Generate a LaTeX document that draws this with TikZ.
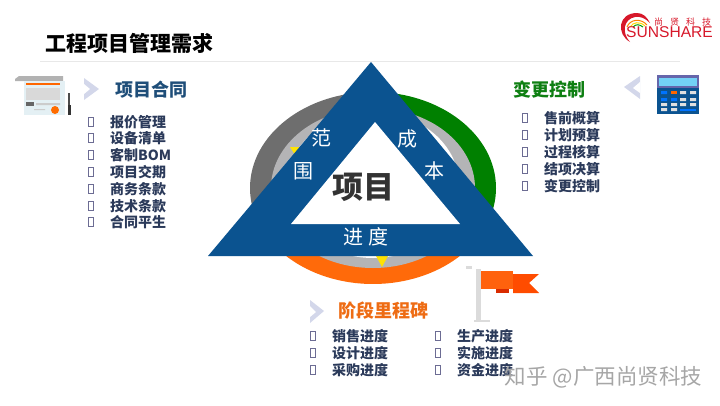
\documentclass[tikz,border=0pt]{standalone}
\usepackage{fontspec}
\setmainfont{Noto Sans CJK SC}
\newfontfamily\logofont{Liberation Sans}
\definecolor{triblue}{HTML}{0B5390}
\definecolor{headblue}{HTML}{1F4E79}
\definecolor{listblue}{HTML}{2B3A5A}
\definecolor{headgreen}{HTML}{0E7F12}
\definecolor{headorange}{HTML}{EE6C14}
\definecolor{ringgray}{HTML}{6E6E6E}
\definecolor{ringgreen}{HTML}{008000}
\definecolor{ringorange}{HTML}{FF6A0A}
\definecolor{innergray}{HTML}{B4B4B6}
\definecolor{chevron}{HTML}{D3D7EA}
\definecolor{logored}{HTML}{D7182A}
\definecolor{paper}{HTML}{E4F0F4}
\tikzset{
  listtext/.style={anchor=west, inner sep=0pt, text=listblue, font=\fontsize{14}{14}\selectfont\bfseries},
  tofu/.style={draw=gray!85!blue, line width=.8pt, inner sep=0pt, minimum width=4.5pt, minimum height=9pt},
  headtext/.style={anchor=west, inner sep=0pt, font=\fontsize{18}{18}\selectfont\bfseries},
  tritext/.style={inner sep=0pt, text=white, font=\fontsize{20}{20}\selectfont},
}
\begin{document}
\begin{tikzpicture}[x=1pt,y=-1pt]
        \useasboundingbox (0,0) rectangle (720,405);

        % ring
        \fill[ringgray] (373,188) -- ++(90:123pt and 96pt) arc[start angle=90,end angle=215,x radius=123pt,y radius=96pt] -- cycle;
        \fill[ringgreen] (373,188) -- ++(90:123pt and 96pt) arc[start angle=90,end angle=-35,x radius=123pt,y radius=96pt] -- cycle;
        \fill[ringorange] (373,188) -- ++(215:123pt and 96pt) arc[start angle=215,end angle=325,x radius=123pt,y radius=96pt] -- cycle;
        \fill[innergray] (373,188) ellipse [x radius=102pt,y radius=80pt];
        \fill[white] (373,185) ellipse [x radius=86pt,y radius=73pt];
        \fill[yellow!85!orange] (290,147) -- (301,147) -- (295,155) -- cycle;
        \fill[yellow!85!orange] (376,256) -- (388,256) -- (382,267) -- cycle;

        % triangle
        \fill[triblue] (371,62) -- (533,256) -- (208,256) -- cycle;
        \fill[white] (375,122) -- (460,224) -- (291,224) -- cycle;

        \begin{scope}[every node/.style={tritext}]
          \node (fan)  at (321,138) {范};
          \node (wei)  at (303,171) {围};
          \node (cheng) at (407,139) {成};
          \node (ben)  at (434,171) {本};
          \node (jin)  at (353,237) {进};
          \node (du)   at (378,237) {度};
        \end{scope}
        \node[inner sep=0pt, text=black!80, font=\fontsize{31}{31}\selectfont\bfseries] (xiangmu) at (363,187) {项目};

        % title
        \node[anchor=west, inner sep=0pt, font=\fontsize{21}{21}\selectfont\bfseries] (title) at (45,43) {工程项目管理需求};
        \draw[black!9, line width=1pt] (40,61) -- (680,61);

        % logo
        \fill[logored] (630,42) .. controls (616,34) and (618,13) .. (637,13) .. controls (643,13) and (647,17) .. (650,23) .. controls (645,18) and (640,16) .. (635,17) .. controls (624,19) and (621,32) .. (630,42) -- cycle;
        \draw[orange, line width=1pt] (627,27) .. controls (630,19) and (641,18) .. (647,25);
        \draw[yellow!80!orange, line width=1pt] (630,27) .. controls (633,22) and (640,21) .. (645,26);
        \draw[green!60!black, line width=1pt] (633,27) .. controls (636,24) and (639,24) .. (643,27);
        \node[inner sep=0pt, text=logored, font=\logofont\fontsize{15.6}{15.6}\selectfont] (sunshare) at (669.5,32.5) {SUNSHARE};
        \node[inner sep=0pt, text=logored, font=\fontsize{9}{9}\selectfont] (shangxian) at (682.5,22) {尚\hspace{7pt}贤\hspace{7pt}科\hspace{7pt}技};

        % left list
        \fill[chevron] (84,78) -- (99,89) -- (84,100) -- cycle;
        \fill[white] (84,84) -- (90,89) -- (84,94) -- cycle;
        \node[headtext, text=headblue] (head1) at (115,90) {项目合同};
        \begin{scope}[every node/.style={tofu}]
          \node (b1) at (91,122) {};
          \node (b2) at (91,138) {};
          \node (b3) at (91,155) {};
          \node (b4) at (91,172) {};
          \node (b5) at (91,189) {};
          \node (b6) at (91,206) {};
          \node (b7) at (91,222) {};
        \end{scope}
        \begin{scope}[every node/.style={listtext}]
          \node (t1) at (110,122) {报价管理};
          \node (t2) at (110,138) {设备清单};
          \node (t3) at (110,155) {客制BOM};
          \node (t4) at (110,172) {项目交期};
          \node (t5) at (110,189) {商务条款};
          \node (t6) at (110,206) {技术条款};
          \node (t7) at (110,222) {合同平生};
        \end{scope}

        % right list
        \fill[chevron] (640,76) -- (624,87) -- (640,99) -- cycle;
        \fill[white] (640,82) -- (633,88) -- (640,93) -- cycle;
        \node[headtext, text=headgreen] (head2) at (513,90) {变更控制};
        \begin{scope}[every node/.style={tofu}]
          \node (b8)  at (525,118) {};
          \node (b9)  at (525,135) {};
          \node (b10) at (525,152) {};
          \node (b11) at (525,169) {};
          \node (b12) at (525,186) {};
        \end{scope}
        \begin{scope}[every node/.style={listtext}]
          \node (t8)  at (544,118) {售前概算};
          \node (t9)  at (544,135) {计划预算};
          \node (t10) at (544,152) {过程核算};
          \node (t11) at (544,169) {结项决算};
          \node (t12) at (544,186) {变更控制};
        \end{scope}

        % bottom lists
        \fill[chevron] (310,300) -- (324,311) -- (310,323) -- cycle;
        \fill[white] (310,306) -- (316,312) -- (310,317) -- cycle;
        \node[headtext, text=headorange] (head3) at (338,311) {阶段里程碑};
        \begin{scope}[every node/.style={tofu}]
          \node (b13) at (313,336) {};
          \node (b14) at (313,353) {};
          \node (b15) at (313,370) {};
          \node (b16) at (438,336) {};
          \node (b17) at (438,353) {};
          \node (b18) at (438,370) {};
        \end{scope}
        \begin{scope}[every node/.style={listtext}]
          \node (t13) at (332,336) {销售进度};
          \node (t14) at (332,353) {设计进度};
          \node (t15) at (332,370) {采购进度};
          \node (t16) at (457,336) {生产进度};
          \node (t17) at (457,353) {实施进度};
          \node (t18) at (457,370) {资金进度};
        \end{scope}

        % contract icon
        \fill[black!30] (15,79) -- (19,76) -- (63,76) -- (63,81) -- (15,81) -- cycle;
        \fill[paper] (24,81) rectangle (65,115);
        \fill[orange!80!red] (26,83) rectangle (60,85);
        \fill[black!15] (26,88) rectangle (60,100);
        \fill[black!60] (26,102) rectangle (34,106);
        \fill[black!20] (36,103) rectangle (60,105) (34,109) rectangle (45,110);
        \fill[orange!85!red] (55,110) circle (4pt);
        \fill[black!70] (68,93) rectangle (70,105);
        \fill[black!80] (67.5,105) rectangle (70.5,115);

        % calculator icon
        \fill[triblue] (657,75) rectangle (699,114);
        \fill[black!55!blue!60] (657,75) rectangle (699,88);
        \fill[cyan!55!white] (659,78) rectangle (697,86);
        \fill[blue!55!cyan] (661,91) rectangle (667,94) (661,98) rectangle (667,101) (671,98) rectangle (677,101);
        \fill[orange!80!red] (671,91) rectangle (677,94);
        \fill[black!12] (680,91) rectangle (686,94) (690,91) rectangle (696,94) (680,98) rectangle (686,101) (690,98) rectangle (696,101)
          (661,103) rectangle (667,106) (671,103) rectangle (677,106) (680,103) rectangle (686,106) (690,103) rectangle (696,106)
          (661,108) rectangle (667,111) (671,108) rectangle (677,111);
        \fill[blue!55!cyan] (680,109) rectangle (696,111);

        % flag icon
        \fill[black!14] (476,269) rectangle (481,320);
        \fill[black!14] (474,320) rectangle (490,322);
        \fill[black!14] (466,266) rectangle (472,269);
        \fill[orange!60!red] (513,274) -- (539,274) -- (529,283) -- (539,293) -- (513,293) -- cycle;
        \fill[red!60!orange!85!black] (496,289) rectangle (509,293);
        \fill[orange!70!red!95!white] (481,271) rectangle (513,289);

        % mark
        \node[inner sep=0pt, text=black!35, font=\fontsize{21.5}{21.5}\selectfont] (mark) at (603.5,377) {知乎 @广西尚贤科技};

      \end{tikzpicture}
\end{document}
